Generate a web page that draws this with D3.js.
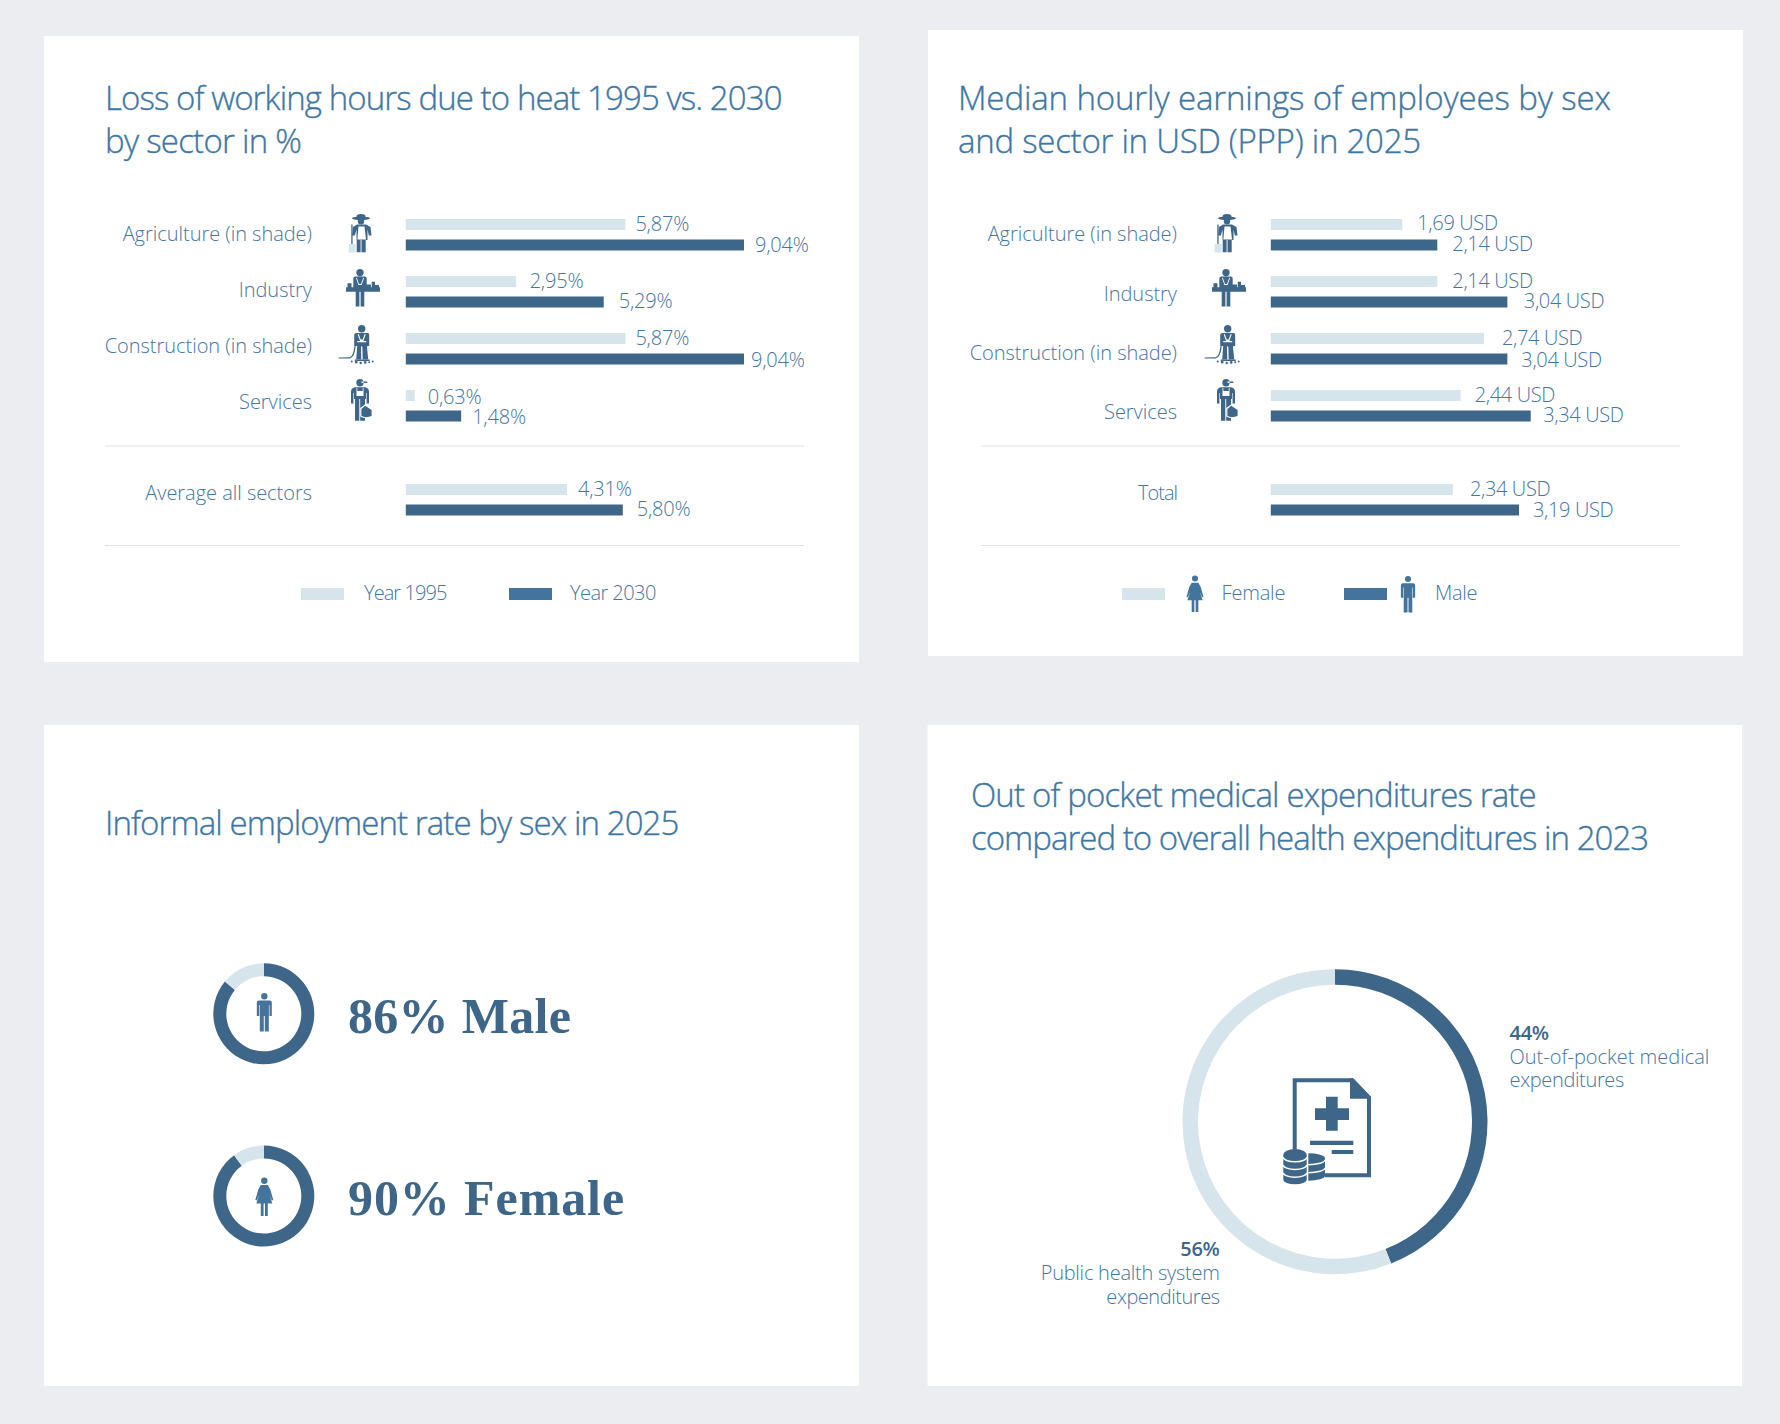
<!DOCTYPE html>
<html>
<head>
<meta charset="utf-8">
<script src="https://cdn.jsdelivr.net/npm/d3@7"></script>
<style>
  html, body { margin: 0; background: #ebedf1; }
  svg { display: block; }
  text { font-family: "Open Sans", sans-serif; font-weight: 300; fill: #44769f; }
</style>
</head>
<body>
<svg width="1780" height="1424"></svg>
<script>
const sectors = ["Agriculture (in shade)", "Industry", "Construction (in shade)", "Services"];

// heat chart, 2 series. the 1995 services bar is drawn much shorter than its 0,63% label says
const heatLabel = "Average all sectors";
const heat1995 = [5.87, 2.95, 5.87, 0.24, 4.31];
const heat2030 = [9.04, 5.29, 9.04, 1.48, 5.80];
const heat1995Text = ["5,87%", "2,95%", "5,87%", "0,63%", "4,31%"];
const heat2030Text = ["9,04%", "5,29%", "9,04%", "1,48%", "5,80%"];

// earnings chart
const wageLabel = "Total";
const wageFemale = [1.69, 2.14, 2.74, 2.44, 2.34];
const wageMale = [2.14, 3.04, 3.04, 3.34, 3.19];
const wageFemaleText = ["1,69 USD", "2,14 USD", "2,74 USD", "2,44 USD", "2,34 USD"];
const wageMaleText = ["2,14 USD", "3,04 USD", "3,04 USD", "3,34 USD", "3,19 USD"];

const informalShare = [86, 90];
const informalText = ["86% Male", "90% Female"];
const healthShare = [44, 56];

const dark = "#3e6688", light = "#d6e4ec", legendDark = "#44739b";

const svg = d3.select("svg");

function disc(cx, cy, r) {
  return `M${cx - r},${cy}a${r},${r} 0 1,0 ${2 * r},0a${r},${r} 0 1,0 ${-2 * r},0Z`;
}
function oval(cx, cy, rx, ry) {
  return `M${cx - rx},${cy}a${rx},${ry} 0 1,0 ${2 * rx},0a${rx},${ry} 0 1,0 ${-2 * rx},0Z`;
}
function box(x0, y0, x1, y1) {
  return `M${x0},${y0}H${x1}V${y1}H${x0}Z`;
}

// little pictograms: list of [colour, path], x round the figure, y from its top
const torso = (l, r, t, b) => `M${l + 2},${t}H${r - 2}Q${r},${t} ${r},${t + 2}V${b}H${l}V${t + 2}Q${l},${t} ${l + 2},${t}Z`;
const iconMale = [[legendDark, disc(0, 3.2, 3.2) + torso(-7.5, 7.5, 7.5, 23) + box(-4.5, 20, -0.5, 38.5) + box(0.5, 20, 4.5, 38.5)], ["#fff", box(-5.2, 12, -4.6, 23) + box(4.6, 12, 5.2, 23)]];
const iconFemale = [[legendDark, disc(0, 3.2, 3.2) + "M-3.5,7.5H3.5L6,12L9,22.5L7.5,23L5,17L8,26H-8L-5,17L-7.5,23L-9,22.5L-6,12Z" + box(-3.5, 26, -0.7, 38.5) + box(0.7, 26, 3.5, 38.5)]];

const iconAgri = [
  [light, box(-12.3, 30, -5.3, 38.5)],
  [dark, box(-9.7, 10.5, -8.4, 30)],
  [dark, oval(0, 4.2, 9, 1.8) + oval(0, 3, 4.7, 3) + disc(0, 7.2, 3.2)],
  [dark, "M-4,10.5H5L9.5,13L10.5,21.5H7.8L6.5,15.5V26H-4.5V15.5L-6.2,21.5H-9L-8,13Z" + box(-4.3, 25, -0.4, 38.2) + box(0.5, 25, 4.7, 38.2)],
  ["#fff", "M-2.5,12.5H3.5L5,25.5H-3.6Z"]
];
const iconIndustry = [
  [dark, disc(0, 3.6, 3.7) + torso(-6.7, 6.7, 7.4, 19) + box(-4.3, 22, -0.6, 37.5) + box(0.6, 22, 4.3, 37.5)],
  [dark, box(-14, 18.3, 20, 22.7) + box(-12.5, 14.3, -8.5, 18.3) + box(11.7, 12.7, 15, 18.3) + box(15, 16, 19, 18.3) + box(5.5, 15.5, 11, 18.3)],
  ["#fff", "M-4,9L-3.2,8.8L-1,15H1L3.2,8.8L4,9L1.6,16H-1.6Z"]
];
const iconConstruction = [
  [dark, disc(0, 4.7, 3.7) + "M-5,9H6Q7.5,9 7.5,11V22H5.5V23H-4.5V22H-7.5V11Q-7.5,9 -5,9Z" + "M-4.5,22H-0.5V35.5H-5.5Z" + "M0.6,22H5.2L6.5,35.5H1Z"],
  // rope trailing off to the left, rubble round the feet
  [dark, "M-23,33.6L-12,33.2Q-8.6,32.6 -7.2,22H-6Q-7,33.6 -12,34.4L-23,34.6Z"],
  [dark, disc(-10, 37.5, 1) + disc(-5.5, 38.2, 1.4) + disc(-1, 39, 1.2) + disc(3.5, 38.4, 1.4) + disc(7.5, 38.2, 1) + disc(11, 37.5, 1) + box(-7, 35.4, 8, 37)],
  ["#fff", "M-4,10.5L-3,10L-1,15.5H1L3,10L4,10.5L1.6,17H4.5V18.2H-4.5V17H-1.6Z" + box(-0.35, 22, 0.35, 30)]
];
const iconServices = [
  [dark, disc(0, 3.7, 3.7) + box(1.5, 2.6, 7.3, 3.9) + "M-5,8.2H5Q9,8.6 9,13V24.5H6V14.5H-6V24.5H-9V13Q-9,8.6 -5,8.2Z"],
  [dark, box(-6, 11, 6, 20) + box(-5, 19, -0.7, 41.7) + box(0.2, 19, 5, 41.7)],
  ["#fff", box(-3.5, 9, -2.7, 13) + box(2.7, 9, 3.5, 13) + box(-3.5, 12, 3.5, 17) + box(-6.6, 14, -6, 24.5) + box(6, 14, 6.6, 24.5)],
  ["#fff", "M0.2,29L5,25.5L12.5,30V37.5Q6,40.5 0.2,37.5Z"],
  [dark, "M1.4,30L5.2,26.8L11.6,31V37Q6,39.3 1.4,37Z"]
];
const iconsBySector = [iconAgri, iconIndustry, iconConstruction, iconServices];
const iconShift = [1, 0, 1.7, 0];
const iconTop = [214, 269, 324, 379];

function drawIcon(g, icon, x, y, k = 1) {
  const ig = g.append("g").attr("transform", `translate(${x},${y}) scale(${k})`);
  icon.forEach(([fill, d]) => ig.append("path").attr("d", d).attr("fill", fill));
}

function panel(x0, y0, x1, y1) {
  svg.append("rect").attr("x", x0).attr("y", y0).attr("width", x1 - x0).attr("height", y1 - y0).attr("fill", "#fff");
}

function title(x, y, lines, spacing) {
  lines.forEach((line, i) => {
    svg.append("text").attr("x", x).attr("y", y + i * 42.5)
      .style("font-size", "33px").style("letter-spacing", spacing[i] + "px").style("fill", "#3f77a4")
      .style("stroke", "#3f77a4").style("stroke-width", 0.35)
      .text(line);
  });
}

function small(x, y, str, anchor = "start", spacing = -0.03) {
  return svg.append("text").attr("x", x).attr("y", y).attr("dy", "0.35em")
    .attr("text-anchor", anchor)
    .style("font-size", "20px").style("letter-spacing", spacing + "px")
    .text(str);
}

function barPanel(o) {
  const rows = sectors.concat([o.lastLabel]);
  const x = d3.scaleLinear().domain(o.domain).range(o.range);
  // last row sits below the divider, so the band step only holds for the sectors
  const band = d3.scaleBand().domain(sectors).range([219, 447]);
  const rowTop = i => i < 4 ? band(sectors[i]) : 484;

  rows.forEach((name, i) => {
    small(o.labelRight, o.nameY[i], name, "end", name === "Total" ? -1 : -0.03);
    svg.append("rect").attr("x", o.range[0]).attr("y", rowTop(i)).attr("width", x(o.a[i]) - o.range[0]).attr("height", 11).attr("fill", light);
    svg.append("rect").attr("x", o.range[0]).attr("y", rowTop(i) + 20.5).attr("width", x(o.b[i]) - o.range[0]).attr("height", 11).attr("fill", dark);
    small(x(o.a[i]) + o.nudgeA[i], o.yA[i], o.aText[i], "start", o.valueSpacing);
    small(x(o.b[i]) + o.nudgeB[i], o.yB[i], o.bText[i], "start", o.valueSpacing);
    if (i < 4) drawIcon(svg, iconsBySector[i], o.iconX + iconShift[i], iconTop[i]);
  });

  [446, 545.5].forEach(y => {
    svg.append("line").attr("x1", o.rule[0]).attr("x2", o.rule[1]).attr("y1", y).attr("y2", y)
      .attr("stroke", "#dfe2e6").attr("stroke-width", 1.2);
  });
}

panel(44, 36, 859, 662);
panel(928, 30, 1743, 656);
panel(44, 725, 859, 1386);
panel(927.5, 725, 1742, 1386);

title(105, 110, ["Loss of working hours due to heat 1995 vs. 2030", "by sector in %"], [-0.9, -0.74]);
title(958, 110, ["Median hourly earnings of employees by sex", "and sector in USD (PPP) in 2025"], [-0.12, -0.25]);
title(105, 835, ["Informal employment rate by sex in 2025"], [-0.9]);
title(971, 807, ["Out of pocket medical expenditures rate", "compared to overall health expenditures in 2023"], [-0.85, -0.97]);

barPanel({
  lastLabel: heatLabel, a: heat1995, b: heat2030, aText: heat1995Text, bText: heat2030Text,
  domain: [0, 9.04], range: [405.8, 744], labelRight: 312, iconX: 360, rule: [105, 804], valueSpacing: -0.2,
  nameY: [234, 290, 346, 402, 493],
  nudgeA: [10, 13.5, 10, 13, 11], nudgeB: [11, 15, 7, 11, 14],
  yA: [224, 281, 338, 397, 489], yB: [245, 301, 360, 417, 509]
});

barPanel({
  lastLabel: wageLabel, a: wageFemale, b: wageMale, aText: wageFemaleText, bText: wageMaleText,
  domain: [0, 3.34], range: [1270.8, 1530.7], labelRight: 1177, iconX: 1226, rule: [981, 1680], valueSpacing: -0.35,
  nameY: [234, 294, 353, 412, 493],
  nudgeA: [15, 15, 18, 14, 17], nudgeB: [15, 16.5, 14, 12.5, 14],
  yA: [223, 281, 338, 394.6, 489], yB: [244, 300.5, 360, 415.4, 509.5]
});

// legends
svg.append("rect").attr("x", 301).attr("y", 588).attr("width", 43).attr("height", 12).attr("fill", light);
small(364, 593, "Year 1995", "start", -0.93);
svg.append("rect").attr("x", 509).attr("y", 588).attr("width", 43).attr("height", 12).attr("fill", legendDark);
small(570, 593, "Year 2030", "start", -0.55);

svg.append("rect").attr("x", 1122).attr("y", 588).attr("width", 43).attr("height", 12).attr("fill", light);
drawIcon(svg, iconFemale, 1195, 575.5, 0.95);
small(1221.5, 593, "Female", "start", -0.17);
svg.append("rect").attr("x", 1344).attr("y", 588).attr("width", 43).attr("height", 12).attr("fill", legendDark);
drawIcon(svg, iconMale, 1408, 576, 0.95);
small(1435, 593, "Male", "start", -0.3);

// small rings
const pie = d3.pie().sort(null);
const smallArc = d3.arc().innerRadius(37.5).outerRadius(50.5);
[1013.8, 1196].forEach((cy, i) => {
  const g = svg.append("g").attr("transform", `translate(263.8,${cy})`);
  g.selectAll("path").data(pie([informalShare[i], 100 - informalShare[i]])).enter().append("path")
    .attr("d", smallArc)
    .attr("fill", (d, j) => j === 0 ? dark : light);
  drawIcon(svg, i === 0 ? iconMale : iconFemale, 264.3, i === 0 ? 993 : 1177.5, 1);
  svg.append("text").attr("x", 348).attr("y", i === 0 ? 1032.7 : 1215)
    .style("font-family", '"Liberation Serif", serif').style("font-weight", 700)
    .style("font-size", "50px").style("fill", dark).style("letter-spacing", (i === 0 ? 0.3 : 0.9) + "px")
    .text(informalText[i]);
});

// big ring
const bigArc = d3.arc().innerRadius(137).outerRadius(152.5);
const big = svg.append("g").attr("transform", "translate(1335,1121.7)");
big.selectAll("path").data(pie(healthShare)).enter().append("path")
  .attr("d", bigArc)
  .attr("fill", (d, j) => j === 0 ? dark : light);

// document with coins in the middle of the ring
const doc = svg.append("g").attr("transform", "translate(1335,1121.7)");
doc.append("path").attr("d", "M-40.3,28V-41.4H17L34,-24V53.6H-10")
  .attr("fill", "none").attr("stroke", dark).attr("stroke-width", 4);
doc.append("path").attr("d", "M15,-43.4H18.3L36,-25V-23H15Z").attr("fill", dark);
doc.append("path").attr("d", box(-9, -25, 2.7, 9) + box(-20, -13.4, 14, -1.7) + box(-25, 19, 18.3, 23.3) + box(-3.3, 28.3, 18.3, 32.3)).attr("fill", dark);
doc.append("path").attr("d", "M-26.7,31.6A16.7,5 0 0,1 -10,36.6V54A16.7,5 0 0,1 -26.7,59Z").attr("fill", dark);
[38, 46].forEach(y => {
  doc.append("path").attr("d", `M-10,${y}A16.7,5 0 0,1 -26.7,${y + 5}`).attr("fill", "none").attr("stroke", "#fff").attr("stroke-width", 1.4);
});
doc.append("path").attr("d", "M-51.7,33.6A11.7,6.3 0 0,1 -28.3,33.6V58A11.7,4.6 0 0,1 -51.7,58Z").attr("fill", dark);
[35.6, 43.3, 51].forEach(y => {
  doc.append("path").attr("d", `M-51.7,${y}A11.7,4.5 0 0,0 -28.3,${y}`).attr("fill", "none").attr("stroke", "#fff").attr("stroke-width", 1.4);
});

small(1509.5, 1032.7, "44%", "start", -0.3).style("font-weight", 600).style("fill", dark);
small(1509.5, 1056.7, "Out-of-pocket medical", "start", 0);
small(1509.5, 1080, "expenditures", "start", -0.35);
small(1219.6, 1249, "56%", "end", -0.3).style("font-weight", 600).style("fill", dark);
small(1219.6, 1272.7, "Public health system", "end", -0.25);
small(1219.6, 1297, "expenditures", "end", -0.45);
</script>
</body>
</html>
